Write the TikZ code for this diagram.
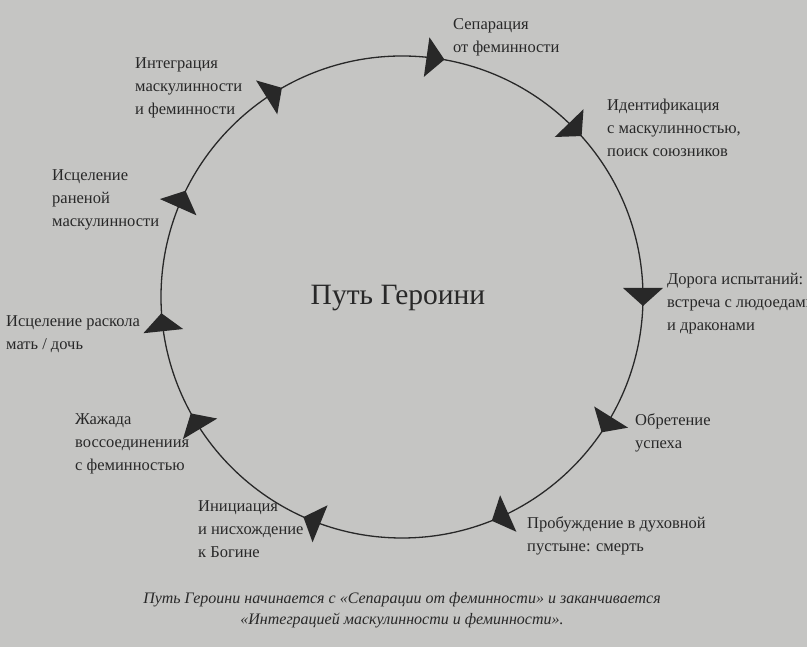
\documentclass[tikz,border=0pt]{standalone}
\usepackage{fontspec}
\setmainfont{Liberation Serif}
\definecolor{bg}{RGB}{197,197,195}
\definecolor{ink}{RGB}{40,40,40}
\tikzset{
  lbl/.style={anchor=north west, inner sep=0pt, align=left, text=ink,
    font=\fontsize{16.5}{23}\selectfont},
  tri/.style={fill=ink, draw=none},
}
\newcommand{\cwarrow}[1]{%
  \fill[tri, shift={(#1:241)}, rotate=#1-90] (9,0) -- (-9,20) -- (-9,-20) -- cycle;}
\begin{document}
\begin{tikzpicture}[x=1pt,y=1pt]
\useasboundingbox (0,0) rectangle (807,647);
\fill[bg] (0,0) rectangle (807,647);
\clip (0,0) rectangle (807,647);
\begin{scope}[shift={(402,350)}]
  \draw[ink, line width=1.3pt] (0,0) circle (241);
  \foreach \a in {82,44,0,-32,-66,-112,-149,-174,156,122} {\cwarrow{\a}}
\end{scope}
\node (title) at (398,349) [text=ink, font=\fontsize{29.5}{32}\selectfont] {Путь Героини};
\node[lbl] (sep) at (453,629) {Сепарация\\от феминности};
\node[lbl] (ident) at (607,548) {Идентификация\\с маскулинностью,\\поиск союзников};
\node[lbl] (road) at (667,374) {Дорога испытаний:\\встреча с людоедами\\и драконами};
\node[lbl] (succ) at (635,234) {Обретение\\успеха};
\node[lbl] (wake) at (527,131) {Пробуждение в духовной\\пустыне: смерть};
\node[lbl] (init) at (198,146) {Инициация\\и нисхождение\\к Богине};
\node[lbl] (thirst) at (75,233) {Жажада\\воссоединениия\\с феминностью};
\node[lbl] (split) at (6,331) {Исцеление раскола\\мать / дочь};
\node[lbl] (wound) at (52,477) {Исцеление\\раненой\\маскулинности};
\node[lbl] (integ) at (135,589) {Интеграция\\маскулинности\\и феминности};
\node (cap) at (402,36.5) [text=ink, align=center, font=\fontsize{16}{21}\selectfont\itshape]
  {Путь Героини начинается с «Сепарации от феминности» и заканчивается\\«Интеграцией маскулинности и феминности».};
\end{tikzpicture}
\end{document}
